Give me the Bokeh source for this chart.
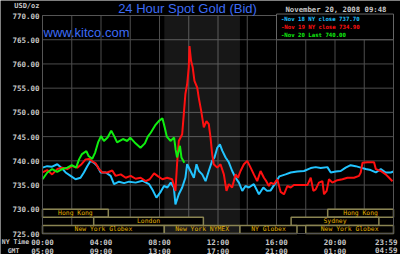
from bokeh.plotting import figure
from bokeh.models import Range1d, FixedTicker, Label, NumeralTickFormatter, LinearAxis
from bokeh.core.properties import value
from bokeh.embed import file_html
from bokeh.resources import INLINE

# ---------------- data (hours of NY time, USD/oz) ----------------
nov18_t = [0.0, 0.32, 0.66, 1.01, 1.35, 1.58, 1.92, 2.26, 2.6, 2.83, 3.06, 3.29, 3.52, 3.75, 3.98,
           4.32, 4.66, 4.89, 5.23, 5.58, 5.92, 6.37, 6.83, 7.28, 7.51, 7.79, 8.08, 8.31, 8.54, 8.77,
           8.98, 9.09, 9.32, 9.55, 9.77, 9.89, 10.12, 10.35, 10.53, 10.69, 10.92, 11.15, 11.37, 11.6,
           11.76, 11.95, 12.13, 12.29, 12.52, 12.74, 12.97, 13.2, 13.43, 13.66, 13.88, 14.11, 14.45,
           14.8, 15.1, 15.35, 15.6, 15.9, 16.2, 16.62, 16.97, 17.42, 17.88, 18.34, 18.68, 19.02, 19.48,
           19.71, 20.05, 20.39, 20.73, 21.07, 21.41, 21.76, 22.1, 22.44, 22.79, 23.13, 23.47, 23.81, 24.0]
nov18_v = [738.6, 738.9, 738.8, 739.3, 738.4, 737.6, 736.9, 736.2, 736.5, 737.6, 738.9, 740.0, 739.6, 738.9, 737.6,
           737.6, 736.9, 735.2, 735.7, 735.4, 735.7, 735.5, 735.9, 735.2, 734.1, 732.4, 733.6, 734.8, 734.5, 735.5,
           734.5, 731.0, 733.1, 734.5, 736.5, 739.3, 737.9, 736.5, 739.3, 737.9, 737.2, 735.8, 737.9, 740.0,
           740.7, 742.7, 743.4, 742.1, 740.7, 739.7, 737.9, 736.5, 735.5, 733.8, 734.8, 734.5, 735.2,
           733.1, 734.5, 733.8, 733.9, 735.3, 736.8, 737.2, 737.6, 737.8, 737.9, 738.5, 738.7, 738.5, 738.7,
           737.6, 737.8, 737.9, 738.6, 739.1, 738.9, 738.6, 738.3, 738.1, 737.6, 738.3, 737.6, 737.6, 737.8]

nov19_t = [0.0, 0.32, 0.66, 1.01, 1.35, 1.69, 2.03, 2.38, 2.67, 2.95, 3.18, 3.4, 3.63, 3.86, 4.09,
           4.43, 4.77, 5.0, 5.35, 5.69, 6.03, 6.37, 6.71, 7.06, 7.33, 7.63, 7.86, 8.2, 8.52, 8.86,
           9.09, 9.2, 9.32, 9.55, 9.66, 9.77, 9.89, 10.0, 10.05, 10.16, 10.27, 10.39, 10.58, 10.68,
           10.85, 11.03, 11.21, 11.37, 11.49, 11.6, 11.71, 11.95, 12.17, 12.4, 12.58, 12.74, 12.97,
           13.2, 13.36, 13.54, 13.77, 14.0, 14.23, 14.45, 14.68, 14.91, 15.14, 15.3, 15.48, 15.6,
           15.82, 16.05, 16.28, 16.51, 16.74, 16.97, 17.19, 17.65, 18.11, 18.34, 18.52, 18.68, 18.9,
           19.14, 19.25, 19.43, 19.59, 19.82, 20.16, 20.51, 20.85, 21.3, 21.64, 21.76, 21.88, 22.22,
           22.67, 22.79, 23.13, 23.47, 23.7, 23.93]
nov19_v = [737.6, 738.1, 737.2, 738.3, 738.6, 738.3, 738.9, 738.6, 739.3, 740.3, 740.4, 739.9, 739.5, 738.3, 737.6,
           737.6, 738.0, 736.9, 737.2, 736.5, 736.9, 736.3, 736.5, 735.8, 736.2, 737.4, 736.9, 736.2, 736.5, 736.2,
           733.8, 739.3, 744.1, 745.5, 749.6, 753.8, 755.8, 759.3, 763.7, 760.6, 759.3, 756.5, 755.1, 753.1,
           750.3, 746.9, 748.2, 747.6, 744.8, 741.4, 739.3, 738.6, 739.3, 737.2, 733.8, 735.2, 734.5,
           737.2, 736.5, 737.9, 739.3, 740.0, 738.6, 737.2, 735.8, 737.9, 736.5, 735.8, 734.8, 735.5,
           735.2, 736.2, 733.6, 733.1, 734.8, 734.5, 735.0, 735.0, 735.0, 736.5, 733.8, 734.1, 735.5,
           735.8, 733.1, 733.8, 736.2, 735.5, 736.0, 736.2, 736.5, 736.5, 736.9, 737.6, 739.6, 739.7,
           739.7, 738.3, 737.9, 737.2, 736.5, 735.8]

nov20_t = [0.0, 0.33, 0.66, 1.0, 1.35, 1.7, 2.0, 2.3, 2.5, 2.7, 3.0, 3.15, 3.4, 3.6, 3.8, 4.0, 4.2,
           4.45, 4.7, 4.9, 5.1, 5.5, 5.8, 6.0, 6.3, 6.7, 7.0, 7.2, 7.4, 7.7, 7.95, 8.2, 8.35, 8.5,
           8.75, 9.0, 9.1, 9.2, 9.4, 9.5, 9.7]
nov20_v = [736.2, 737.6, 738.3, 737.7, 738.3, 738.6, 739.1, 738.6, 740.3, 741.4, 742.0, 741.0, 740.4, 741.7,
           743.8, 745.1, 744.1, 744.8, 746.2, 745.1, 743.8, 744.5, 744.1, 744.8, 743.8, 742.7, 743.6, 745.0,
           745.8, 747.3, 748.2, 748.8, 747.0, 745.0, 744.1, 744.8, 742.4, 740.7, 743.1, 740.7, 739.6]

legend_texts = ["-Nov 18 NY close 737.70", "-Nov 19 NY close 734.90", "-Nov 20 Last 740.00"]
series_colors = ["#22c4ff", "#ff1010", "#10ee10"]

y_ticks = [725, 730, 735, 740, 745, 750, 755, 760, 765, 770]
x_ticks = [0, 4, 8, 12, 16, 20, 24]
x_grid = [0, 2, 4, 6, 8, 10, 12, 14, 16, 18, 20, 22, 24]
ny_labels = ["00:00", "04:00", "08:00", "12:00", "16:00", "20:00", "23:59"]
gmt_labels = ["05:00", "09:00", "13:00", "17:00", "21:00", "01:00", "04:59"]

nymex_start = [8.33]
nymex_end = [13.5]

session_names = ["Hong Kong", "Hong Kong", "London", "Sydney",
                 "New York Globex", "New York NYMEX", "NY Globex", "New York Globex"]
session_start = [0.0, 19.5, 3.5, 17.0, 0.0, 8.33, 13.5, 18.0]
session_end = [4.5, 24.0, 11.0, 23.0, 8.33, 13.5, 17.4, 24.0]
session_row = [0, 0, 1, 1, 2, 2, 2, 2]

# ---------------- layout (canvas pixels) ----------------
W, H = 400, 254
PL, PR, PT, PB = 42, 393, 15, 233          # plotting-area box inside the canvas
x0, x1 = x_ticks[0], x_ticks[-1]
y0, y1 = y_ticks[0], y_ticks[-1]
kx = (x1 - x0) / (PR - PL)
ky = (y1 - y0) / (PB - PT)
xr = Range1d(x0 - PL * kx, x1 + (W - PR) * kx)
yr = Range1d(y0 - (H - PB) * ky, y1 + PT * ky)

p = figure(width=W, height=H, output_backend="svg", toolbar_location=None,
           x_range=xr, y_range=yr, x_axis_type=None, y_axis_type=None,
           min_border=0, min_border_left=0, min_border_right=0, min_border_top=0, min_border_bottom=0,
           background_fill_color="#000000", border_fill_color="#000000")
p.title.visible = False
p.outline_line_color = None
p.grid.visible = False

mono = "DejaVu Sans Mono"
lab_col = "#c8c8c8"
grid_col = "#4d4d4d"
tick_font = "7.5px"

# axes pinned to the plotting-area edges (last time label is right-aligned separately)
yax = LinearAxis(ticker=FixedTicker(ticks=y_ticks), formatter=NumeralTickFormatter(format="0.00"),
                 fixed_location=x0, bounds=(y0, y1))
nyax = LinearAxis(ticker=FixedTicker(ticks=x_ticks[:-1]), fixed_location=y0, bounds=(x0, x1),
                  major_label_overrides={t: a for t, a in zip(x_ticks, ny_labels)})
gmtax = LinearAxis(ticker=FixedTicker(ticks=x_ticks[:-1]), fixed_location=y0, bounds=(x0, x1),
                   major_label_overrides={t: b for t, b in zip(x_ticks, gmt_labels)})
for ax in (yax, nyax, gmtax):
    ax.major_label_text_font = mono
    ax.major_label_text_font_size = tick_font
    ax.major_label_text_font_style = "bold"
    ax.major_label_text_color = lab_col
    ax.major_tick_line_color = None
    ax.major_tick_out = 0
    ax.major_tick_in = 0
    ax.minor_tick_line_color = None
    ax.minor_tick_out = 0
    ax.minor_tick_in = 0
    ax.axis_line_color = None
yax.major_label_standoff = 3
nyax.major_label_standoff = 4
gmtax.major_label_standoff = 13
p.add_layout(yax, "left")
p.add_layout(nyax, "below")
p.add_layout(gmtax, "below")

# final time labels, kept inside the canvas like the original
for lab, ytop in ((ny_labels[-1], 241.7), (gmt_labels[-1], 250.0)):
    p.add_layout(Label(x=x_ticks[-1], y=H - ytop, y_units="screen", x_offset=4, text=lab,
                       text_font=mono, text_font_size=tick_font, text_font_style="bold",
                       text_color=lab_col, text_align="right", text_baseline="middle"))

# grid lines from the tick values
p.segment(x0=x_grid, y0=[y0] * len(x_grid), x1=x_grid, y1=[y1] * len(x_grid),
          line_color=grid_col, line_width=1)
p.segment(x0=[x0] * len(y_ticks), y0=y_ticks, x1=[x1] * len(y_ticks), y1=y_ticks,
          line_color=grid_col, line_width=1)

# NYMEX shading
p.quad(left=nymex_start, right=nymex_end, bottom=[y0], top=[y1],
       fill_color="#ffffff", fill_alpha=0.09, line_color=None)

# series
for t, v, c in zip([nov18_t, nov19_t, nov20_t], [nov18_v, nov19_v, nov20_v], series_colors):
    p.line(t, v, line_color=c, line_width=2)

# session bands
row_h = 5.0 / 3.0
tops = [730 - r * row_h for r in session_row]
bots = [730 - (r + 1) * row_h for r in session_row]
fills = ["#1a1a1a" if n == "New York NYMEX" else "#000000" for n in session_names]
p.quad(left=session_start, right=session_end, bottom=bots, top=tops,
       fill_color=fills, line_color="#8a8452", line_width=1.5)
p.text(x=[(a + b) / 2 for a, b in zip(session_start, session_end)],
       y=[(a + b) / 2 for a, b in zip(tops, bots)], text=session_names,
       text_font=value(mono), text_font_size="6.4px", text_color="#e0b000",
       text_align="center", text_baseline="middle")

# plot-area outline
p.quad(left=[x0], right=[x1], bottom=[y0], top=[y1], fill_color=None,
       line_color="#555555", line_width=1)

# legend box
p.quad(left=[16], right=[24], bottom=[765], top=[770.3], fill_color="#000000",
       line_color="#666666", line_width=1)
for i, (txt, c) in enumerate(zip(legend_texts, series_colors)):
    p.add_layout(Label(x=16.3, y=769.2 - i * 1.62, text=txt, text_color=c,
                       text_font=mono, text_font_size="5.7px", text_font_style="bold",
                       text_baseline="middle"))

def canvas_label(x, y_top, text, **kw):
    p.add_layout(Label(x=x, y=H - y_top, x_units="screen", y_units="screen", text=text,
                       text_baseline="middle", **kw))

canvas_label(187, 7.5, "24 Hour Spot Gold (Bid)", text_font="Liberation Sans",
             text_font_size="13px", text_color="#3d6cf5", text_align="center")
canvas_label(43, 31.5, "www.kitco.com", text_font="Liberation Sans",
             text_font_size="13px", text_color="#3d6cf5", text_align="left")
canvas_label(386, 9.3, "November 20, 2008 09:48", text_font=mono, text_font_size="7.3px",
             text_font_style="bold", text_color=lab_col, text_align="right")
canvas_label(39, 5, "USD/oz", text_font=mono, text_font_size="7px", text_font_style="bold",
             text_color=lab_col, text_align="right")
canvas_label(15, 241.7, "NY Time", text_font=mono, text_font_size="6.5px", text_font_style="bold",
             text_color=lab_col, text_align="center")
canvas_label(13, 250, "GMT", text_font=mono, text_font_size="6.5px", text_font_style="bold",
             text_color=lab_col, text_align="center")

open("out.html", "w").write(file_html(p, INLINE))
